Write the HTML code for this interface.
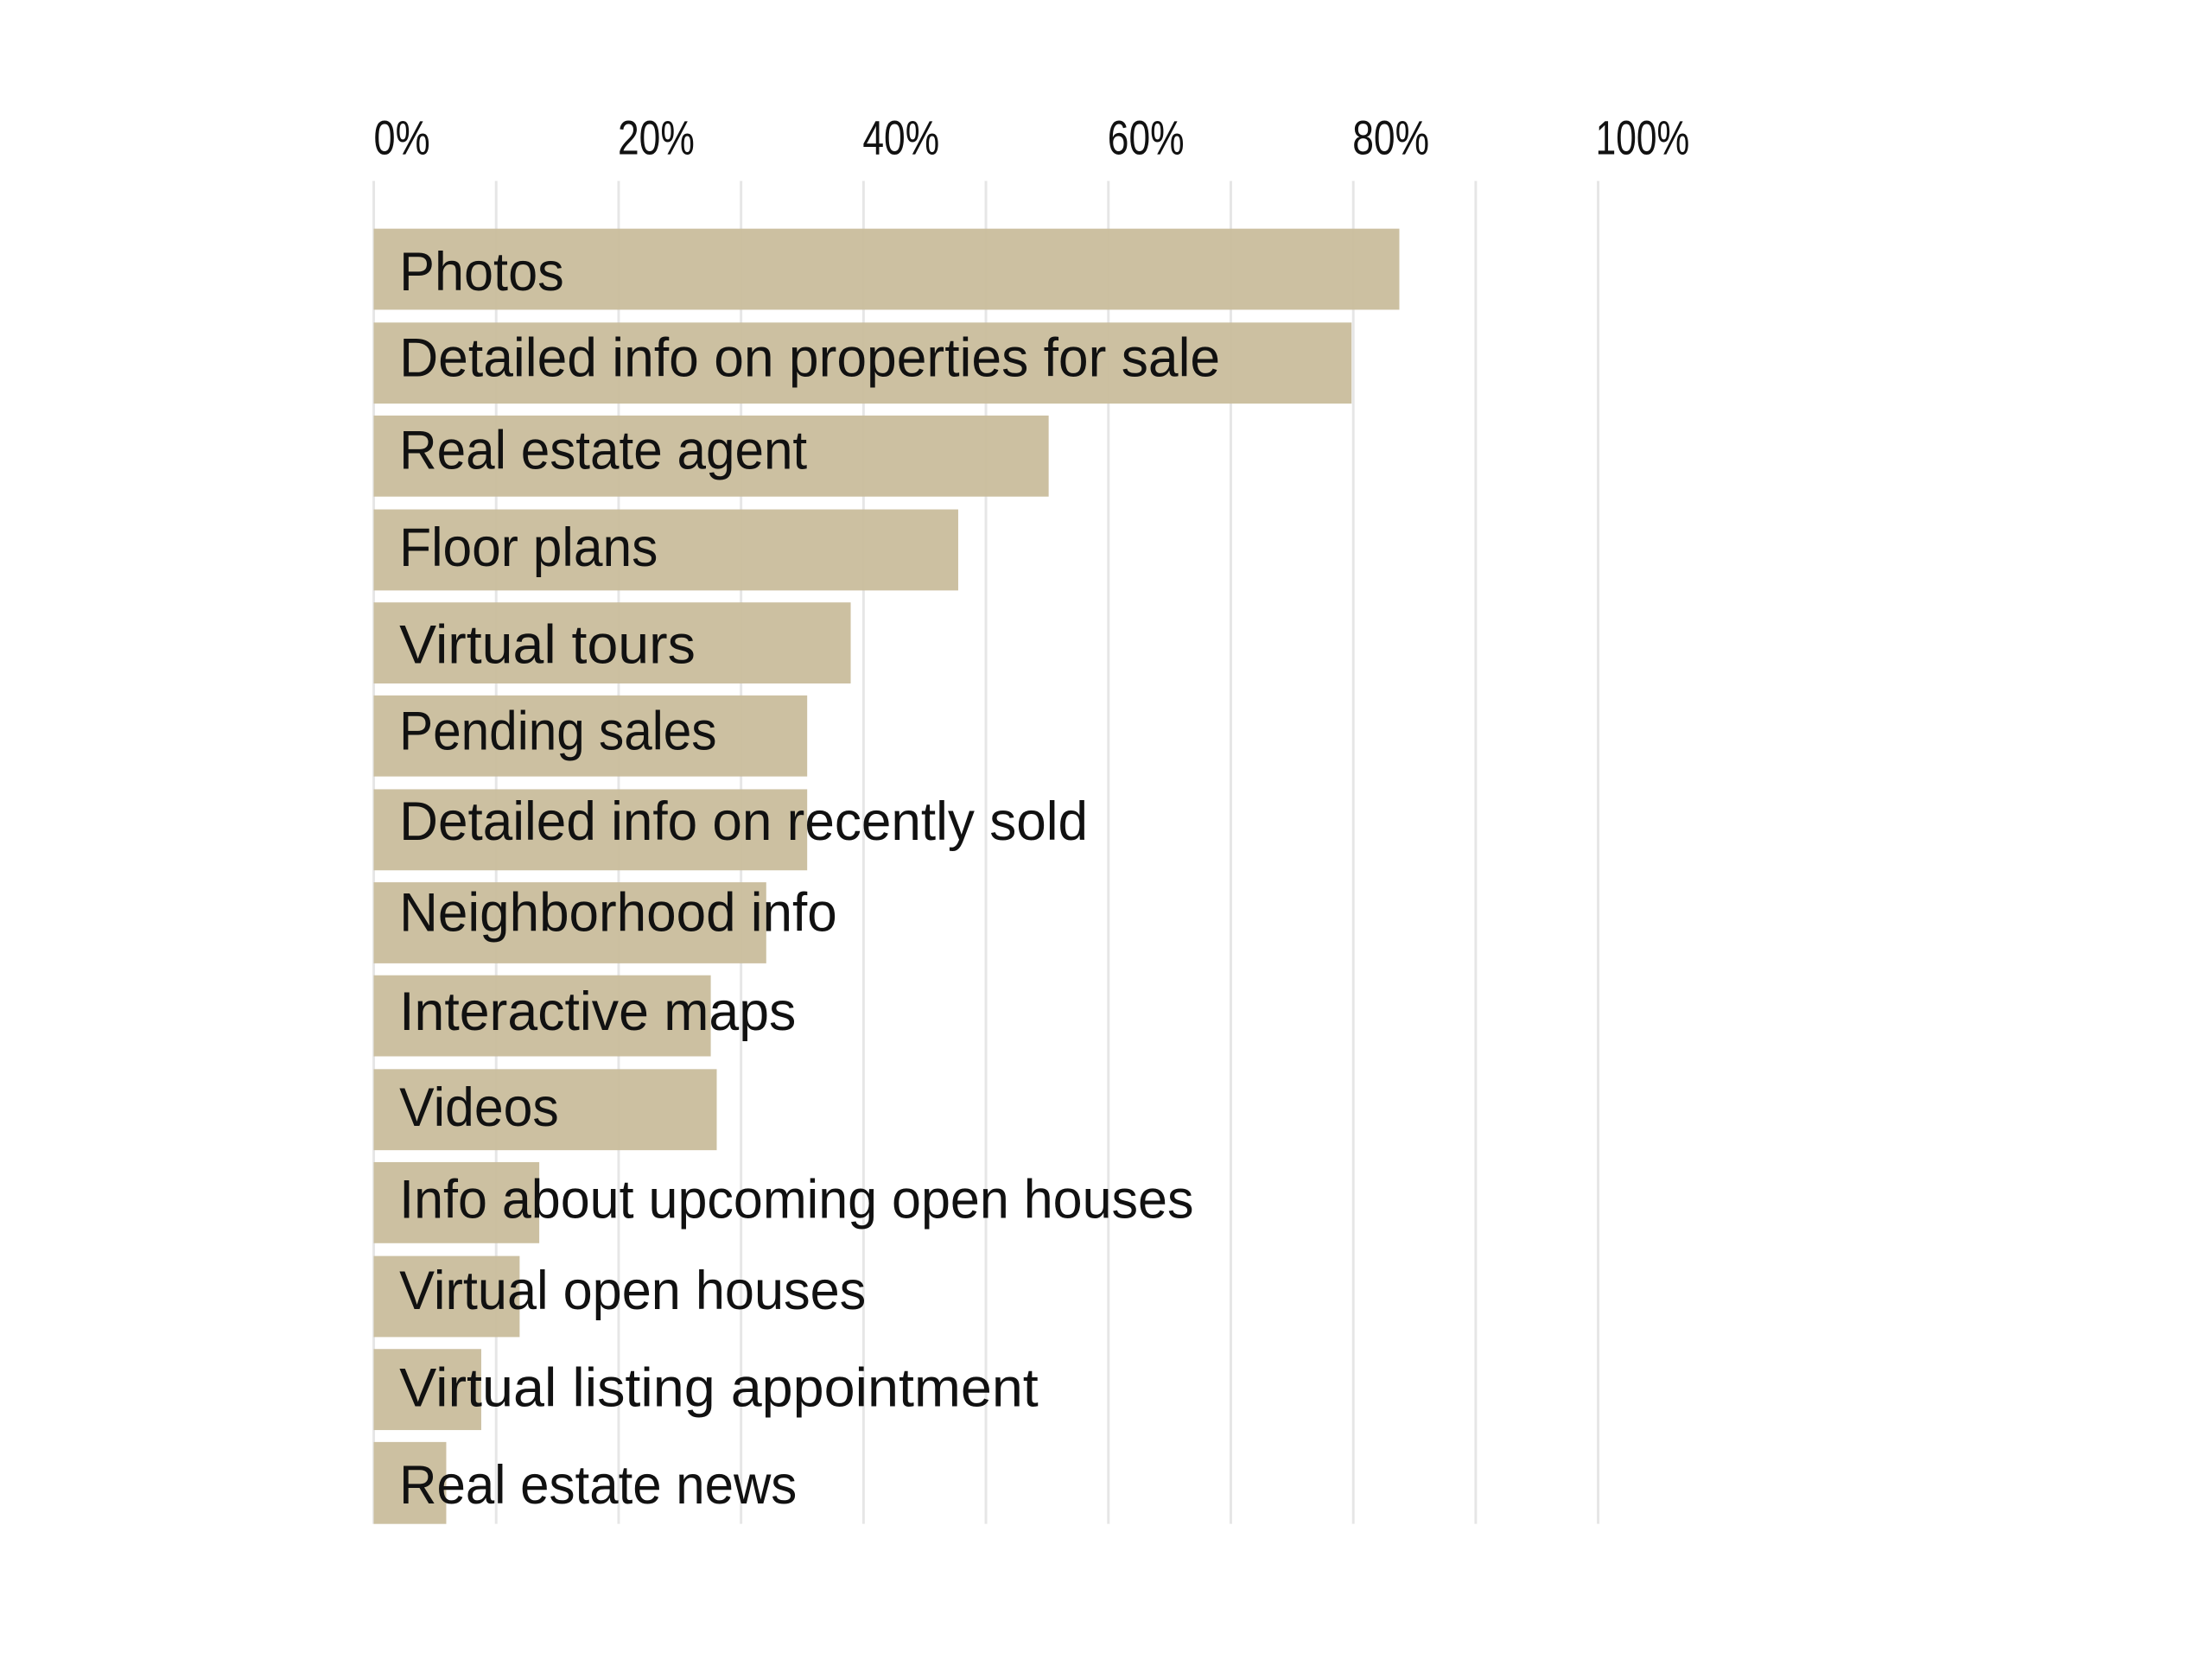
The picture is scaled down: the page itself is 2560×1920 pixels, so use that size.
<!DOCTYPE html>
<html><head><style>html,body{margin:0;padding:0;background:#fff}svg{display:block}</style></head>
<body>
<svg width="2560" height="1920" viewBox="0 0 2560 1920" xmlns="http://www.w3.org/2000/svg">
<rect width="2560" height="1920" fill="#fff"/>
<g transform="scale(0.9875)">
<g stroke="#e6e6e6" stroke-width="3">
<line x1="438" y1="212" x2="438" y2="1786"/>
<line x1="581.5" y1="212" x2="581.5" y2="1786"/>
<line x1="725" y1="212" x2="725" y2="1786"/>
<line x1="868.5" y1="212" x2="868.5" y2="1786"/>
<line x1="1012" y1="212" x2="1012" y2="1786"/>
<line x1="1155.5" y1="212" x2="1155.5" y2="1786"/>
<line x1="1299" y1="212" x2="1299" y2="1786"/>
<line x1="1442.5" y1="212" x2="1442.5" y2="1786"/>
<line x1="1586" y1="212" x2="1586" y2="1786"/>
<line x1="1729.5" y1="212" x2="1729.5" y2="1786"/>
<line x1="1873" y1="212" x2="1873" y2="1786"/>
</g>
<g font-family="Liberation Sans, sans-serif" font-size="56" fill="#111">
<text x="438" y="181" textLength="66" lengthAdjust="spacingAndGlyphs">0%</text>
<text x="724" y="181" textLength="90" lengthAdjust="spacingAndGlyphs">20%</text>
<text x="1011" y="181" textLength="90" lengthAdjust="spacingAndGlyphs">40%</text>
<text x="1298" y="181" textLength="90" lengthAdjust="spacingAndGlyphs">60%</text>
<text x="1585" y="181" textLength="90" lengthAdjust="spacingAndGlyphs">80%</text>
<text x="1870" y="181" textLength="110" lengthAdjust="spacingAndGlyphs">100%</text>
</g>
<g fill="#c9bd9c" fill-opacity="0.95">
<rect x="438" y="268" width="1202" height="95"/>
<rect x="438" y="378" width="1146" height="95"/>
<rect x="438" y="487" width="791" height="95"/>
<rect x="438" y="597" width="685" height="95"/>
<rect x="438" y="706" width="559" height="95"/>
<rect x="438" y="815" width="508" height="95"/>
<rect x="438" y="925" width="508" height="95"/>
<rect x="438" y="1034" width="460" height="95"/>
<rect x="438" y="1143" width="395" height="95"/>
<rect x="438" y="1253" width="402" height="95"/>
<rect x="438" y="1362" width="194" height="95"/>
<rect x="438" y="1472" width="171" height="95"/>
<rect x="438" y="1581" width="126" height="95"/>
<rect x="438" y="1690" width="85" height="96"/>
</g>
<g font-family="Liberation Sans, DejaVu Sans, sans-serif" font-size="64" fill="#111" dominant-baseline="central">
<text x="468" y="319" textLength="193" lengthAdjust="spacingAndGlyphs">Photos</text>
<text x="468" y="420" textLength="962" lengthAdjust="spacingAndGlyphs">Detailed info on properties for sale</text>
<text x="468" y="528" textLength="478" lengthAdjust="spacingAndGlyphs">Real estate agent</text>
<text x="468" y="642" textLength="303" lengthAdjust="spacingAndGlyphs">Floor plans</text>
<text x="468" y="756" textLength="347" lengthAdjust="spacingAndGlyphs">Virtual tours</text>
<text x="468" y="857" textLength="372" lengthAdjust="spacingAndGlyphs">Pending sales</text>
<text x="468" y="963" textLength="807" lengthAdjust="spacingAndGlyphs">Detailed info on recently sold</text>
<text x="468" y="1070" textLength="513" lengthAdjust="spacingAndGlyphs">Neighborhood info</text>
<text x="468" y="1186" textLength="465" lengthAdjust="spacingAndGlyphs">Interactive maps</text>
<text x="468" y="1298" textLength="187" lengthAdjust="spacingAndGlyphs">Videos</text>
<text x="468" y="1406" textLength="931" lengthAdjust="spacingAndGlyphs">Info about upcoming open houses</text>
<text x="468" y="1513" textLength="547" lengthAdjust="spacingAndGlyphs">Virtual open houses</text>
<text x="468" y="1627" textLength="749" lengthAdjust="spacingAndGlyphs">Virtual listing appointment</text>
<text x="468" y="1741" textLength="466" lengthAdjust="spacingAndGlyphs">Real estate news</text>
</g>
</g>
</svg>
</body></html>
